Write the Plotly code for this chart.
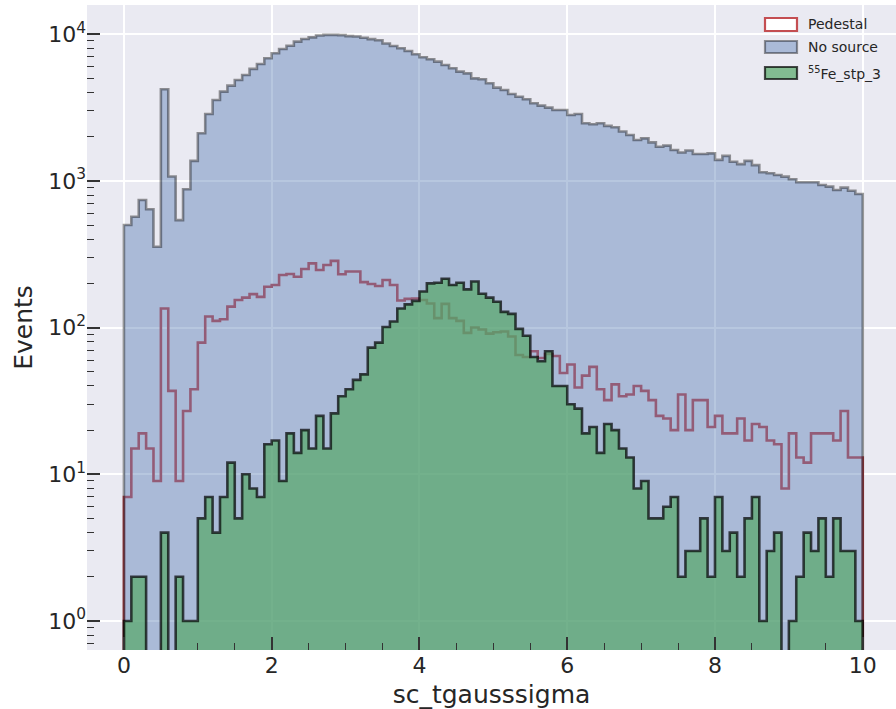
import numpy as np
import plotly.graph_objects as go

# ---------------- data (histogram counts, 100 bins of width 0.1 on [0, 10]) -------------
bin_edges = [round(0.1 * i, 1) for i in range(101)]

pedestal = [7, 15, 19, 15, 9, 135, 37, 9, 27, 38,
            79, 119, 111, 114, 139, 154, 160, 169, 162, 190,
            195, 228, 232, 222, 251, 274, 247, 267, 285, 231,
            241, 241, 204, 198, 192, 211, 195, 153, 157, 158,
            154, 146, 116, 145, 116, 111, 92, 100, 97, 91,
            93, 94, 87, 65, 63, 69, 62, 66, 64, 49,
            56, 39, 47, 54, 38, 32, 41, 34, 35, 40,
            37, 32, 25, 24, 20, 35, 20, 32, 32, 21,
            25, 19, 19, 24, 17, 22, 21, 17, 16, 8,
            19, 13, 12, 19, 19, 19, 17, 27, 13, 13]

no_source = [500, 570, 740, 640, 356, 4210, 1070, 540, 877, 1370,
             2110, 2860, 3560, 4060, 4460, 4870, 5270, 5800, 6270, 6860,
             7420, 7930, 8350, 8900, 9280, 9520, 9800, 9900, 9900, 9850,
             9700, 9650, 9460, 9250, 9100, 8650, 8310, 8020, 7690, 7300,
             6960, 6750, 6500, 6170, 5860, 5560, 5410, 5000, 4930, 4630,
             4320, 4165, 3910, 3750, 3600, 3380, 3260, 3160, 3040, 3040,
             2810, 2860, 2470, 2430, 2470, 2370, 2320, 2170, 2055, 1900,
             1950, 1830, 1710, 1740, 1625, 1560, 1610, 1525, 1525, 1540,
             1390, 1480, 1350, 1300, 1370, 1280, 1145, 1126, 1097, 1069,
             1026, 978, 978, 978, 937, 914, 867, 899, 857, 814]

fe_stp_3 = [1, 2, 2, 0, 0, 4, 0, 2, 1, 1,
            5, 7, 4, 7, 12, 5, 10, 8, 7, 16,
            17, 9, 19, 14, 20, 15, 25, 15, 26, 34,
            38, 44, 48, 73, 79, 101, 110, 135, 144, 152,
            176, 200, 202, 215, 195, 202, 182, 206, 170, 160,
            150, 128, 124, 98, 88, 63, 59, 69, 40, 40,
            30, 28, 19, 21, 14, 22, 20, 15, 13, 8,
            9, 5, 5, 6, 7, 2, 3, 3, 5, 2,
            7, 3, 4, 2, 5, 7, 1, 3, 4, 0,
            1, 2, 4, 3, 5, 2, 5, 3, 3, 1]

x_ticks = [0, 2, 4, 6, 8, 10]
y_ticks = [1, 10, 100, 1000, 10000]
y_tick_text = ["10<sup>0</sup>", "10<sup>1</sup>", "10<sup>2</sup>", "10<sup>3</sup>", "10<sup>4</sup>"]
legend_labels = ["Pedestal", "No source", "<sup>55</sup>Fe_stp_3"]

# ---------------- helpers -------------
FLOOR = 1e-3  # stands in for zero counts on the log axis (drawn below the visible range)


def step_xy(counts):
    xs = [bin_edges[0]] + list(bin_edges[:-1]) + [bin_edges[-1], bin_edges[-1]]
    cs = [c if c > 0 else FLOOR for c in counts]
    ys = [FLOOR] + cs + [cs[-1], FLOOR]
    return xs, ys


RED = "rgb(196,78,82)"
BLUE_FILL = "rgba(76,114,176,0.4)"
BLUE_EDGE = "rgba(0,0,0,0.4)"
GREEN_FILL = "rgba(85,168,104,0.7)"
GREEN_EDGE = "rgba(0,0,0,0.7)"
TXT = "#262626"
FONT = "DejaVu Sans"

fig = go.Figure()

x, y = step_xy(pedestal)
fig.add_trace(go.Scatter(x=x, y=y, mode="lines", line=dict(shape="hv", color=RED, width=2.6),
                         name="Pedestal", showlegend=False, hoverinfo="skip"))

x, y = step_xy(no_source)
fig.add_trace(go.Scatter(x=x, y=y, mode="lines", line=dict(shape="hv", color=BLUE_EDGE, width=2.6),
                         fill="toself", fillcolor=BLUE_FILL,
                         name="No source", showlegend=False, hoverinfo="skip"))

x, y = step_xy(fe_stp_3)
fig.add_trace(go.Scatter(x=x, y=y, mode="lines", line=dict(shape="hv", color=GREEN_EDGE, width=2.6),
                         fill="toself", fillcolor=GREEN_FILL,
                         name="55Fe_stp_3", showlegend=False, hoverinfo="skip"))

# ---------------- layout -------------
W, H = 896, 709
ML, MR, MT, MB = 87, 0, 5, 59
PW, PH = W - ML - MR, H - MT - MB

x_minor = [v / 2 for v in range(0, 21) if (v / 2) not in x_ticks]
y_minor = [m * 10 ** k for k in range(-1, 5) for m in range(2, 10)]

fig.update_layout(
    width=W, height=H,
    margin=dict(l=ML, r=MR, t=MT, b=MB, autoexpand=False),
    paper_bgcolor="white",
    plot_bgcolor="#EAEAF2",
    font=dict(family=FONT, color=TXT),
    showlegend=False,
    xaxis=dict(
        range=[-0.5, 10.45],
        tickvals=x_ticks,
        ticks="inside", ticklen=13, tickwidth=1.5, tickcolor="#333333",
        tickfont=dict(family=FONT, size=22, color=TXT),
        showgrid=True, gridcolor="white", gridwidth=1.5,
        zeroline=False, showline=False,
        minor=dict(tickvals=x_minor, ticks="inside", ticklen=7, tickwidth=1.2,
                   tickcolor="#333333", showgrid=False),
        title=dict(text="sc_tgausssigma", font=dict(family=FONT, size=25, color=TXT), standoff=9),
    ),
    yaxis=dict(
        type="log",
        range=[-0.198, 4.199],
        tickvals=y_ticks, ticktext=y_tick_text,
        ticks="inside", ticklen=13, tickwidth=1.5, tickcolor="#333333",
        tickfont=dict(family=FONT, size=22, color=TXT),
        showgrid=True, gridcolor="white", gridwidth=1.5,
        zeroline=False, showline=False,
        minor=dict(tickvals=y_minor, ticks="inside", ticklen=7, tickwidth=1.2,
                   tickcolor="#333333", showgrid=False),
        title=dict(text="Events", font=dict(family=FONT, size=25, color=TXT), standoff=8),
    ),
)

# ---------------- legend (drawn manually, matplotlib style) -------------
def px_x(px):
    return (px - ML) / PW


def px_y(py):
    return (H - MB - py) / PH


legend_rows = [
    (legend_labels[0], 18, 31, "white", RED),
    (legend_labels[1], 41, 53, BLUE_FILL, BLUE_EDGE),
    (legend_labels[2], 67, 79, GREEN_FILL, GREEN_EDGE),
]
shapes = []
annotations = []
for label, top, bot, fc, lc in legend_rows:
    shapes.append(dict(type="rect", xref="paper", yref="paper",
                       x0=px_x(765), x1=px_x(797), y0=px_y(bot), y1=px_y(top),
                       fillcolor=fc, line=dict(color=lc, width=2.2), layer="above"))
    annotations.append(dict(xref="paper", yref="paper", x=px_x(806), y=px_y((top + bot) / 2),
                            xanchor="left", yanchor="middle", showarrow=False, text=label,
                            font=dict(family=FONT, size=14, color=TXT)))
fig.update_layout(shapes=shapes, annotations=annotations)

fig.write_html(
    "out.html",
    config={"displayModeBar": False},
    post_script="document.body.style.margin='0';document.body.style.overflow='hidden';",
)
